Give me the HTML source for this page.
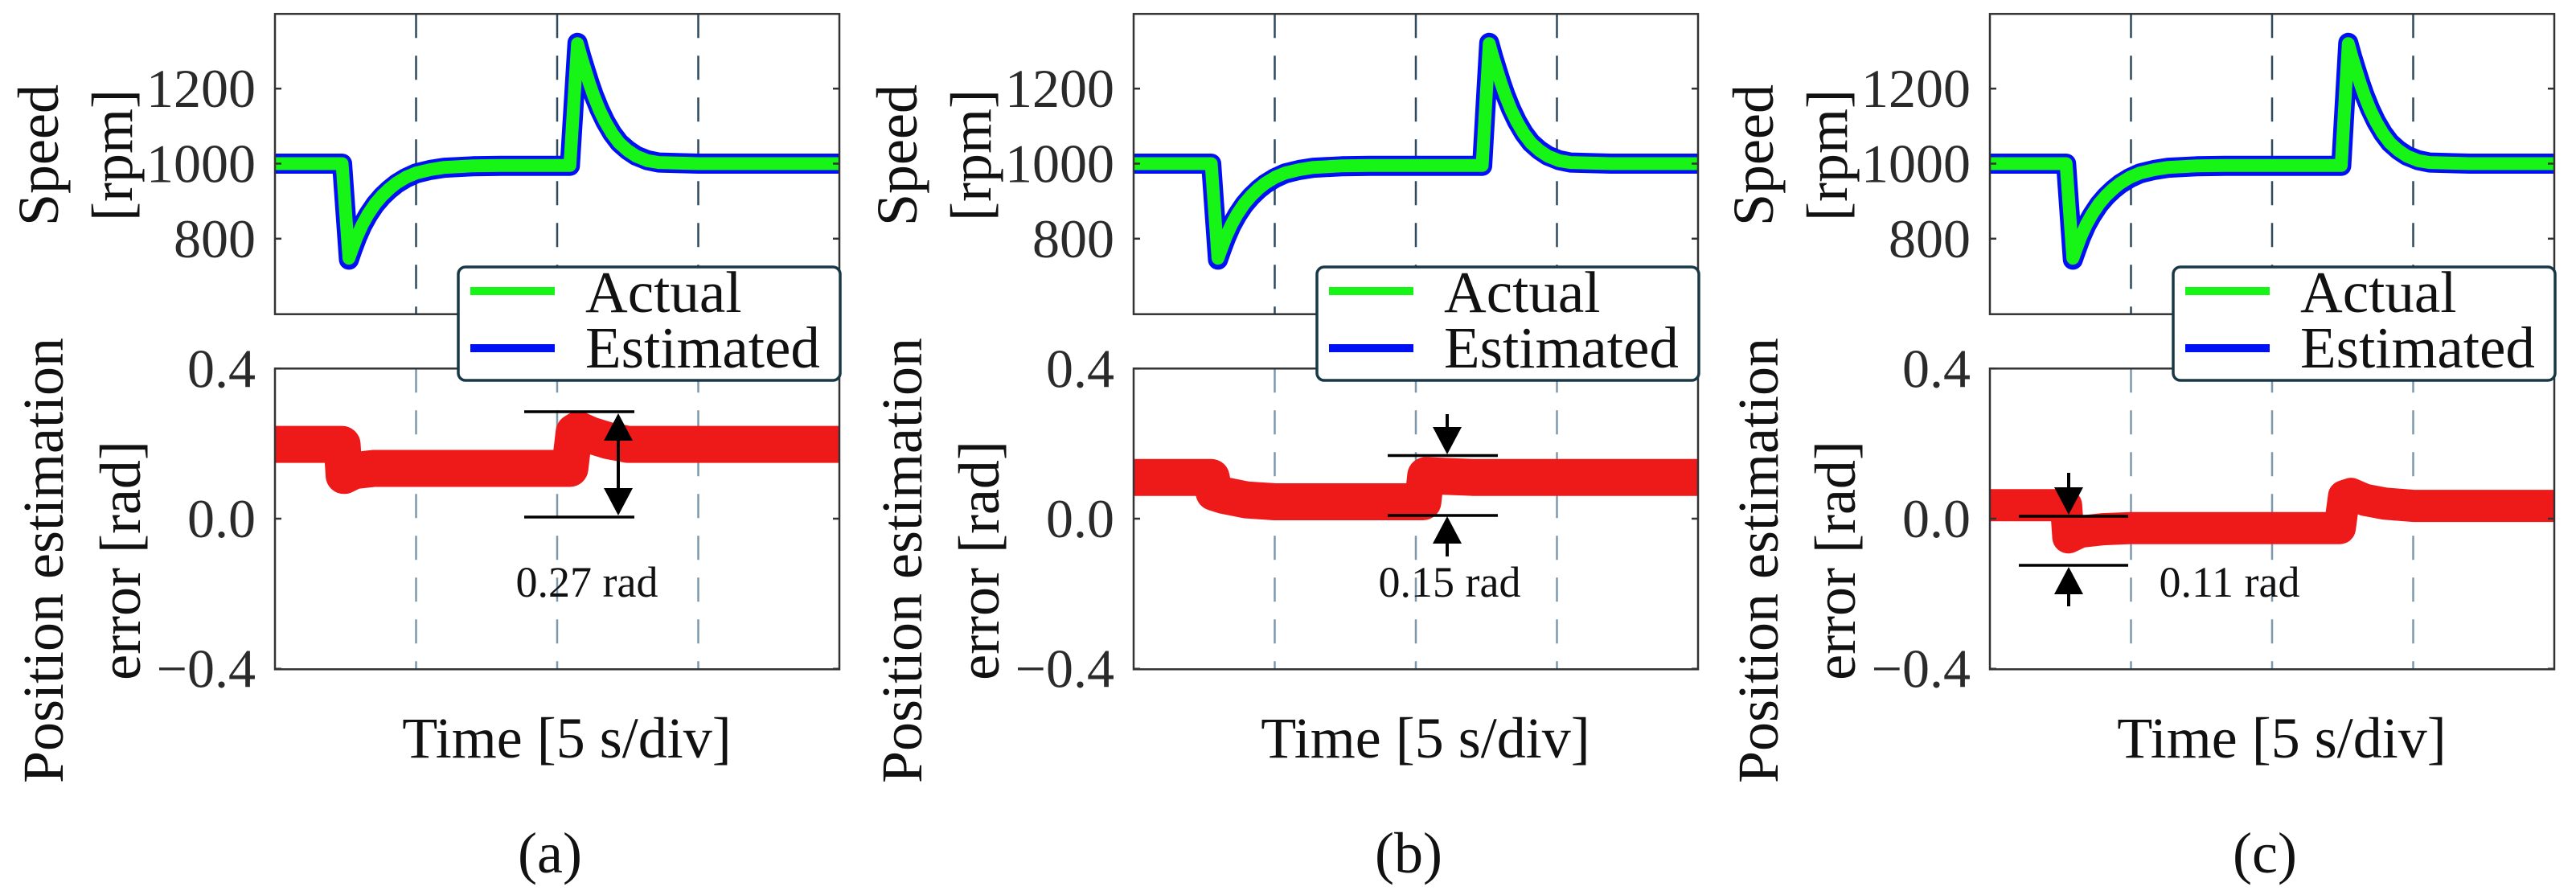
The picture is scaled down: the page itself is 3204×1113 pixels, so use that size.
<!DOCTYPE html>
<html><head><meta charset="utf-8"><style>
html,body{margin:0;padding:0;background:#fff;}
svg{display:block;}
svg text{font-family:"Liberation Serif","Times New Roman","DejaVu Serif",serif;}
</style></head><body>
<svg id="fig" width="3204" height="1113" viewBox="0 0 3204 1113" xmlns="http://www.w3.org/2000/svg" font-family="Liberation Serif, Times New Roman, serif"></svg>
<script>
// ---- data (time in s, 0..20 = 4 div x 5 s) ----
const tSpeedA = [0, 2.38, 2.62, 2.75, 2.9, 3.1, 3.3, 3.55, 3.8, 4.05, 4.3, 4.65, 5, 5.5, 6, 7, 8, 10.45, 10.72, 10.85, 11.0, 11.15, 11.3, 11.5, 11.7, 11.95, 12.2, 12.5, 12.8, 13.2, 13.6, 15, 20];
const speedActualA = [1000, 1000, 748, 775, 805, 838, 865, 893, 915, 933, 948, 964, 975, 984, 990, 994, 995, 995, 1320, 1285, 1248, 1212, 1180, 1143, 1112, 1080, 1055, 1035, 1020, 1008, 1003, 1000, 1000];
const speedEstA = [1000, 1000, 744, 772, 802, 836, 863, 891, 913, 931, 946, 962, 974, 983, 989, 993, 994, 994, 1322, 1287, 1250, 1214, 1182, 1145, 1113, 1081, 1056, 1036, 1021, 1009, 1003, 1000, 1000];
const tErrA = [0, 2.38, 2.45, 2.8, 3.5, 5, 10.45, 10.6, 10.75, 11.2, 11.8, 12.5, 20];
const errA = [0.198, 0.198, 0.115, 0.128, 0.134, 0.134, 0.134, 0.23, 0.237, 0.222, 0.208, 0.198, 0.198];

const tSpeedB = [0, 2.75, 2.99, 3.12, 3.27, 3.47, 3.67, 3.92, 4.17, 4.42, 4.67, 5.02, 5.37, 5.87, 6.37, 7.37, 8.37, 12.35, 12.6, 12.73, 12.88, 13.03, 13.18, 13.38, 13.58, 13.83, 14.08, 14.38, 14.68, 15.08, 15.48, 16.9, 20];
const speedActualB = [1000, 1000, 748, 775, 805, 838, 865, 893, 915, 933, 948, 964, 975, 984, 990, 994, 995, 995, 1320, 1285, 1248, 1212, 1180, 1143, 1112, 1080, 1055, 1035, 1020, 1008, 1003, 1000, 1000];
const speedEstB = [1000, 1000, 744, 772, 802, 836, 863, 891, 913, 931, 946, 962, 974, 983, 989, 993, 994, 994, 1322, 1287, 1250, 1214, 1182, 1145, 1113, 1081, 1056, 1036, 1021, 1009, 1003, 1000, 1000];
const tErrB = [0, 2.75, 2.85, 3.2, 4, 5, 10.25, 10.35, 11, 12, 20];
const errB = [0.11, 0.11, 0.07, 0.062, 0.05, 0.045, 0.045, 0.115, 0.113, 0.11, 0.11];

const tSpeedC = [0, 2.7, 2.94, 3.07, 3.22, 3.42, 3.62, 3.87, 4.12, 4.37, 4.62, 4.97, 5.32, 5.82, 6.32, 7.32, 8.32, 12.45, 12.7, 12.83, 12.98, 13.13, 13.28, 13.48, 13.68, 13.93, 14.18, 14.48, 14.78, 15.18, 15.58, 17, 20];
const speedActualC = [1000, 1000, 748, 775, 805, 838, 865, 893, 915, 933, 948, 964, 975, 984, 990, 994, 995, 995, 1320, 1285, 1248, 1212, 1180, 1143, 1112, 1080, 1055, 1035, 1020, 1008, 1003, 1000, 1000];
const speedEstC = [1000, 1000, 744, 772, 802, 836, 863, 891, 913, 931, 946, 962, 974, 983, 989, 993, 994, 994, 1322, 1287, 1250, 1214, 1182, 1145, 1113, 1081, 1056, 1036, 1021, 1009, 1003, 1000, 1000];
const tErrC = [0, 2.7, 2.78, 3.2, 4, 5, 12.4, 12.55, 12.8, 13.3, 14, 15, 20];
const errC = [0.036, 0.036, -0.05, -0.035, -0.028, -0.025, -0.025, 0.06, 0.066, 0.05, 0.04, 0.034, 0.034];

const speedTicks = [800, 1000, 1200];
const speedTickLabels = ["800", "1000", "1200"];
const errTicks = [-0.4, 0, 0.4];
const errTickLabels = ["\u22120.4", "0.0", "0.4"];
const divTimes = [5, 10, 15];
const panelLetters = ["(a)", "(b)", "(c)"];
const annotationText = ["0.27 rad", "0.15 rad", "0.11 rad"];

// ---- layout ----
const NS = "http://www.w3.org/2000/svg";
const svg = document.getElementById("fig");
const PW = 702, TOP1 = 17.3, BOT1 = 390.7, TOP2 = 458.3, BOT2 = 832.3;
const lefts = [342, 1410, 2475];
const FONT = "Liberation Serif, Times New Roman, serif";
function mk(tag, attrs, parent) {
  const e = document.createElementNS(NS, tag);
  for (const k in attrs) e.setAttribute(k, attrs[k]);
  if (tag === "text") e.setAttribute("font-family", FONT);
  (parent || svg).appendChild(e);
  return e;
}
function xs(L, t) { return L + t / 20 * PW; }
function ysp(v) { return 203.5 - (v - 1000) / 200 * 93.3; }
function yer(e) { return 645 - e / 0.4 * 186.7; }
function pts(L, ts, vs, fy) { return ts.map((t, i) => xs(L, t).toFixed(1) + "," + fy(vs[i]).toFixed(1)).join(" "); }

const panelData = [
  [tSpeedA, speedActualA, speedEstA, tErrA, errA, 46],
  [tSpeedB, speedActualB, speedEstB, tErrB, errB, 46],
  [tSpeedC, speedActualC, speedEstC, tErrC, errC, 40]
];

for (let p = 0; p < 3; p++) {
  const L = lefts[p], R = L + PW;
  const g = mk("g", {});
  
  
  const d = panelData[p];
  for (const dt of divTimes) {
    const x = xs(L, dt);
    const l1 = mk("line", {x1: x, y1: TOP1, x2: x, y2: BOT1, stroke: "#2d4a60", "stroke-width": 2.5, "stroke-dasharray": "30,22"}, g);
    
    
    const l2 = mk("line", {x1: x, y1: TOP2, x2: x, y2: BOT2, stroke: "#7d98ad", "stroke-width": 2.5, "stroke-dasharray": "30,22"}, g);
    
    
  }
  const est = mk("polyline", {points: pts(L, d[0], d[2], ysp), fill: "none", stroke: "#0010f5", "stroke-width": 25, "stroke-linejoin": "round", "stroke-linecap": "butt"}, g);
  
  
  const act = mk("polyline", {points: pts(L, d[0], d[1], ysp), fill: "none", stroke: "#16f516", "stroke-width": 16, "stroke-linejoin": "round", "stroke-linecap": "butt"}, g);
  
  
  const er = mk("polyline", {points: pts(L, d[3], d[4], yer), fill: "none", stroke: "#ee1a1a", "stroke-width": d[5], "stroke-linejoin": "round", "stroke-linecap": "butt"}, g);
  
  
  const b1 = mk("rect", {x: L, y: TOP1, width: PW, height: BOT1 - TOP1, fill: "none", stroke: "#333", "stroke-width": 2.5}, g);
  
  
  const b2 = mk("rect", {x: L, y: TOP2, width: PW, height: BOT2 - TOP2, fill: "none", stroke: "#333", "stroke-width": 2.5}, g);
  
  
  speedTicks.forEach((v, i) => {
    const y = ysp(v);
    mk("line", {x1: L, y1: y, x2: L + 8, y2: y, stroke: "#333", "stroke-width": 2.5}, g);
    mk("line", {x1: R, y1: y, x2: R - 8, y2: y, stroke: "#333", "stroke-width": 2.5}, g);
    const t = mk("text", {x: L - 24, y: y + 23, "text-anchor": "end", "font-size": 68, fill: "#2a2a2a"}, g);
    t.textContent = speedTickLabels[i];
    
    
  });
  errTicks.forEach((v, i) => {
    const y = yer(v);
    mk("line", {x1: L, y1: y, x2: L + 8, y2: y, stroke: "#333", "stroke-width": 2.5}, g);
    mk("line", {x1: R, y1: y, x2: R - 8, y2: y, stroke: "#333", "stroke-width": 2.5}, g);
    const t = mk("text", {x: L - 24, y: y + 23, "text-anchor": "end", "font-size": 68, fill: "#2a2a2a"}, g);
    t.textContent = errTickLabels[i];
    
    
  });
  // y labels (x = baseline position after rotation)
  const ylabs = [["Speed", -270, 193], ["[rpm]", -178, 193], ["Position estimation", -264, 697], ["error [rad]", -168, 697]];
  ylabs.forEach(a => {
    const cx = L + a[1], cy = a[2];
    const t = mk("text", {x: cx, y: cy, transform: `rotate(-90 ${cx} ${cy})`, "text-anchor": "middle", "font-size": 72, fill: "#111"}, g);
    t.textContent = a[0];
    
    
  });
  const xl = mk("text", {x: L + 363, y: 942, "text-anchor": "middle", "font-size": 72, fill: "#111"}, g);
  xl.textContent = "Time [5 s/div]";
  
  
  const cap = mk("text", {x: L + 342, y: 1085, "text-anchor": "middle", "font-size": 72, fill: "#111"}, g);
  cap.textContent = panelLetters[p];
  
  
  const lg = mk("g", {}, g);
  
  
  mk("rect", {x: L + 228, y: 332, width: 475, height: 141, rx: 9, fill: "#fff", stroke: "#183848", "stroke-width": 3.5}, lg);
  mk("line", {x1: L + 243, y1: 362, x2: L + 348, y2: 362, stroke: "#16f516", "stroke-width": 10}, lg);
  mk("line", {x1: L + 243, y1: 433, x2: L + 348, y2: 433, stroke: "#0010f5", "stroke-width": 10}, lg);
  const la = mk("text", {x: L + 386, y: 388, "font-size": 73, fill: "#111"}, lg);
  la.textContent = "Actual";
  
  
  const le = mk("text", {x: L + 386, y: 457, "font-size": 73, fill: "#111"}, lg);
  le.textContent = "Estimated";
  
  
}

// ---- annotations ----
function hline(x1, x2, y) { mk("line", {x1: x1, y1: y, x2: x2, y2: y, stroke: "#000", "stroke-width": 3.5}); }
function tri(x, yTip, up) {
  const h = 34, w = 18, yb = up ? yTip + h : yTip - h;
  mk("polygon", {points: `${x},${yTip} ${x - w},${yb} ${x + w},${yb}`, fill: "#000"});
}
function vline(x, y1, y2) { mk("line", {x1: x, y1: y1, x2: x, y2: y2, stroke: "#000", "stroke-width": 4}); }
hline(652, 789, 512); hline(652, 789, 643);
vline(769, 540, 615); tri(769, 514, true); tri(769, 641, false);
hline(1726, 1863, 566.5); hline(1726, 1863, 641);
vline(1800, 515, 540); tri(1800, 565, false);
vline(1800, 665, 692); tri(1800, 642, true);
hline(2511, 2647, 642); hline(2511, 2647, 703);
vline(2573, 588, 615); tri(2573, 640, false);
vline(2573, 730, 754); tri(2573, 705, true);
const annX = [730, 1803, 2773];
annX.forEach((x, i) => {
  const t = mk("text", {x: x, y: 742, "text-anchor": "middle", "font-size": 54, fill: "#111"});
  t.textContent = annotationText[i];
  
  
});
</script>
</body></html>
